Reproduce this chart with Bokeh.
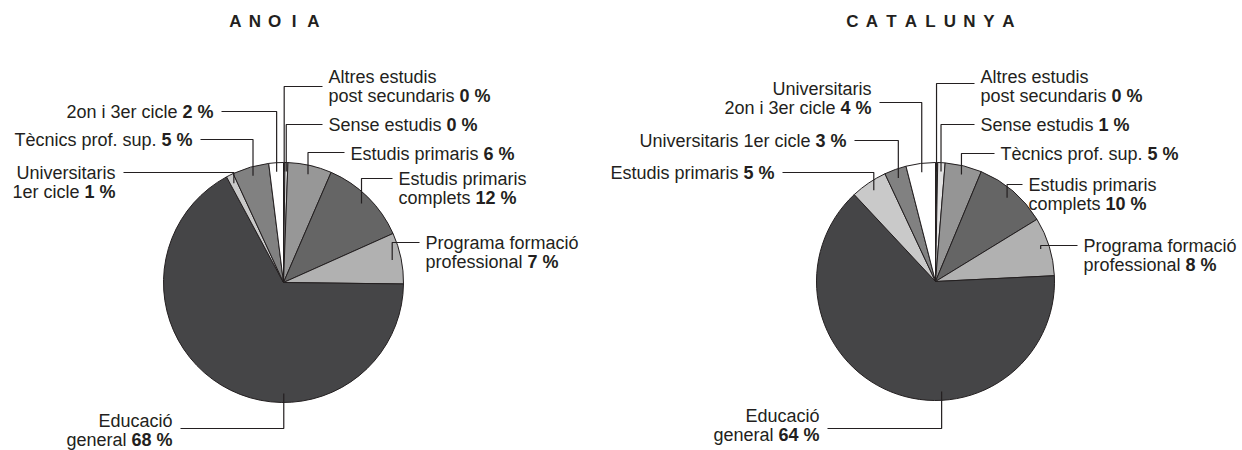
import math
from bokeh.plotting import figure
from bokeh.models import ColumnDataSource, Range1d
from bokeh.core.properties import value
from bokeh.embed import file_html
from bokeh.resources import INLINE

# ---------------- data ----------------
titles = ["ANOIA", "CATALUNYA"]

anoia_categories = [
    "Altres estudis\npost secundaris",
    "Sense estudis",
    "Estudis primaris",
    "Estudis primaris\ncomplets",
    "Programa formació\nprofessional",
    "Educació\ngeneral",
    "Universitaris\n1er cicle",
    "Tècnics prof. sup.",
    "2on i 3er cicle",
]
anoia_values = [0.2, 0.4, 6, 12, 7, 68, 1, 5, 2]

catalunya_categories = [
    "Altres estudis\npost secundaris",
    "Sense estudis",
    "Tècnics prof. sup.",
    "Estudis primaris\ncomplets",
    "Programa formació\nprofessional",
    "Educació\ngeneral",
    "Estudis primaris",
    "Universitaris 1er cicle",
    "Universitaris\n2on i 3er cicle",
]
catalunya_values = [0.3, 1, 5, 10, 8, 64, 5, 3, 4]

# ---------------- style / layout ----------------
anoia_colors = ["#ffffff", "#d9d9d9", "#979797", "#656565", "#b1b1b1",
                "#454547", "#c9c9c9", "#818181", "#ffffff"]
catalunya_colors = ["#2a2a2a", "#e2e2e2", "#959595", "#656565", "#b1b1b1",
                    "#454547", "#c9c9c9", "#818181", "#ffffff"]

# label layout (page pixel coords): side, text x, first-line y, leader y, anchor fraction in slice
anoia_layout = dict(
    side=["R", "R", "R", "R", "R", "L", "L", "L", "L"],
    tx=[328, 328, 350, 398, 425, 172, 115, 192, 213],
    ty=[76, 124, 153, 178, 242, 420, 172, 139, 111],
    ly=[86, 124, 152, 178, 242, 428, 172, 139, 111],
    frac=[0.5, 0.5, 0.5, 0.5, 0.5, 0.37, 0.5, 0.5, 0.5],
)
catalunya_layout = dict(
    side=["R", "R", "R", "R", "R", "L", "L", "L", "L"],
    tx=[980, 980, 1000, 1028, 1083, 819, 774, 846, 871],
    ty=[76, 124, 153, 184, 245, 415, 172, 140, 88],
    ly=[83, 124, 153, 184, 245, 428, 172, 140, 102],
    frac=[0.5, 0.5, 0.5, 0.5, 0.5, 0.39, 0.5, 0.5, 0.5],
)

W, H = 1242, 450
FONT = "Liberation Sans"
FS = 18
LINE_H = 19
INK = "#231f20"


def X(xi):
    return xi


def Y(yi):
    return H - yi


# Arial / Liberation Sans advance widths (per 1000 em)
REG = {" ": 278, ".": 278, "%": 889, "A": 667, "C": 722, "E": 667, "P": 667,
       "S": 667, "T": 611, "U": 722, "a": 556, "c": 500, "d": 556, "e": 556,
       "f": 278, "g": 556, "i": 222, "l": 222, "m": 833, "n": 556, "o": 556,
       "p": 556, "r": 333, "s": 500, "t": 278, "u": 556, "v": 500, "ó": 556,
       "è": 556}
BOLD = {" ": 278, "%": 889}


def tw(s, bold=False):
    tbl = BOLD if bold else REG
    return sum(tbl.get(c, 556) for c in s) * FS / 1000.0


p = figure(width=W, height=H, x_range=Range1d(0, W), y_range=Range1d(0, H),
           output_backend="svg", toolbar_location=None, min_border=0,
           x_axis_location=None, y_axis_location=None)
p.xgrid.grid_line_color = None
p.ygrid.grid_line_color = None
p.outline_line_color = None
p.background_fill_color = "white"

texts = {k: dict(x=[], y=[], t=[]) for k in ("nl", "nr", "bl", "br")}


def draw_pie(cx, cy, R, cats, vals, colors, lay):
    total = float(sum(vals))
    starts, ends = [], []
    cum = 0.0
    for v in vals:
        starts.append(cum / total)
        cum += v
        ends.append(cum / total)
    src = ColumnDataSource(dict(
        start=[math.pi / 2 - 2 * math.pi * s for s in starts],
        end=[math.pi / 2 - 2 * math.pi * e for e in ends],
        color=colors,
    ))
    p.wedge(x=X(cx), y=Y(cy), radius=R, start_angle="start", end_angle="end",
            direction="clock", fill_color="color", line_color=INK,
            line_width=1, source=src)

    xs, ys = [], []
    ra = 0.925 * R
    for i, (cat, v) in enumerate(zip(cats, vals)):
        side = lay["side"][i]
        tx, ty, ly, fr = lay["tx"][i], lay["ty"][i], lay["ly"][i], lay["frac"][i]
        th = 2 * math.pi * (starts[i] + fr * (ends[i] - starts[i]))
        ax = cx + ra * math.sin(th)
        ay = cy - ra * math.cos(th)
        ex = tx - 6 if side == "R" else tx + 8
        xs.append([X(ax), X(ax), X(ex)])
        ys.append([Y(ay), Y(ly), Y(ly)])

        lines = cat.split("\n")
        pct = f"{round(v)} %"
        n = len(lines)
        for j, line in enumerate(lines):
            yy = Y(ty + j * LINE_H)
            last = (j == n - 1)
            if side == "R":
                texts["nl"]["x"].append(X(tx)); texts["nl"]["y"].append(yy); texts["nl"]["t"].append(line)
                if last:
                    texts["bl"]["x"].append(X(tx + tw(line + " ")))
                    texts["bl"]["y"].append(yy); texts["bl"]["t"].append(pct)
            else:
                if last:
                    texts["br"]["x"].append(X(tx)); texts["br"]["y"].append(yy); texts["br"]["t"].append(pct)
                    texts["nr"]["x"].append(X(tx - tw(pct, True) - tw(" ")))
                else:
                    texts["nr"]["x"].append(X(tx))
                texts["nr"]["y"].append(yy); texts["nr"]["t"].append(line)

    p.multi_line(xs=xs, ys=ys, line_color=INK, line_width=1.2)


draw_pie(283, 282, 120, anoia_categories, anoia_values, anoia_colors, anoia_layout)
draw_pie(935, 281, 119, catalunya_categories, catalunya_values, catalunya_colors, catalunya_layout)

for key, align, style in (("nl", "left", "normal"), ("nr", "right", "normal"),
                          ("bl", "left", "bold"), ("br", "right", "bold")):
    d = texts[key]
    p.text(x="x", y="y", text="t", source=ColumnDataSource(d),
           text_font=value(FONT), text_font_size=value(f"{FS}px"),
           text_font_style=style, text_align=align, text_baseline="middle",
           text_color=INK)

# titles, letter-spaced
tx_all, ty_all, tt_all = [], [], []
for title, cxt in zip(titles, (274, 930)):
    n = len(title)
    sp = 19.5
    for i, ch in enumerate(title):
        tx_all.append(X(cxt + (i - (n - 1) / 2) * sp))
        ty_all.append(Y(21))
        tt_all.append(ch)
p.text(x="x", y="y", text="t", source=ColumnDataSource(dict(x=tx_all, y=ty_all, t=tt_all)),
       text_font=value(FONT), text_font_size=value("17px"), text_font_style="bold",
       text_align="center", text_baseline="middle", text_color=INK)

open("out.html", "w").write(file_html(p, INLINE))
